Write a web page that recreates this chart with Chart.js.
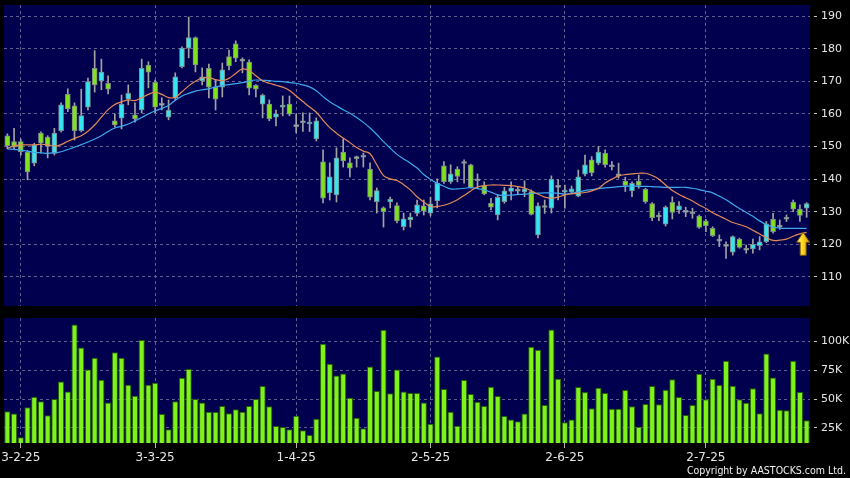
<!DOCTYPE html>
<html>
<head>
<meta charset="utf-8">
<script src="https://cdn.jsdelivr.net/npm/chart.js@4"></script>
<style>
  html, body { margin: 0; padding: 0; background: #000; }
  #wrap { position: relative; width: 850px; height: 478px; background: #000; overflow: hidden; }
  #priceCanvas { position: absolute; left: 0; top: 0; }
  #volCanvas { position: absolute; left: 0; top: 310px; }
  #copy { position: absolute; right: 4px; top: 464px; color: #f0f0f0; line-height: 1;
          font: 10.5px "DejaVu Sans Condensed", "DejaVu Sans", sans-serif; }
</style>
</head>
<body>
<div id="wrap">
  <canvas id="priceCanvas" width="850" height="310"></canvas>
  <canvas id="volCanvas" width="850" height="168"></canvas>
  <div id="copy">Copyright by AASTOCKS.com Ltd.</div>
</div>
<script>
// daily candles
const open = [153.3,151.5,151.5,148.3,144.9,154.1,152.9,147.9,154.9,166.0,
  162.5,154.9,162.1,174.0,170.1,169.4,157.9,158.7,164.5,159.7,
  161.2,175.0,169.7,162.6,159.0,164.8,174.5,180.2,183.4,170.1,
  174.0,168.2,168.2,177.6,181.5,176.2,175.9,168.8,163.0,163.0,
  159.0,162.1,163.0,156.1,157.3,156.9,152.3,145.3,135.8,135.2,
  148.3,145.0,146.3,146.7,143.1,133.1,131.2,133.0,131.9,125.4,
  127.5,129.5,131.8,129.6,133.3,144.1,139.2,143.1,144.8,144.4,
  139.5,138.0,132.6,129.0,133.1,136.2,136.3,136.1,136.2,122.9,
  131.3,131.1,137.5,136.0,136.1,134.8,141.5,145.9,144.9,147.9,
  143.8,141.0,139.4,136.4,139.4,136.9,132.5,128.4,126.2,132.9,
  130.6,129.8,129.4,128.7,127.2,124.9,121.0,119.4,117.6,121.6,
  118.2,118.6,119.6,120.8,127.7,125.3,127.7,133.0,130.8,131.1];
const high = [153.9,155.6,152.3,148.7,151.0,154.5,153.3,155.6,163.4,167.7,
  163.4,167.6,171.0,179.4,176.8,171.7,160.0,165.8,168.9,163.4,
  176.8,176.0,170.4,164.9,164.3,172.6,180.6,189.7,183.6,174.1,
  175.3,170.4,175.6,179.6,182.4,177.2,176.6,169.0,166.1,164.3,
  161.2,165.5,165.5,160.0,160.3,160.3,158.8,149.0,145.0,149.6,
  152.3,146.5,147.1,148.0,145.0,137.3,131.5,134.5,132.7,129.6,
  129.6,133.6,133.6,134.5,140.1,145.4,144.4,143.8,145.9,144.6,
  141.6,139.2,134.1,135.2,137.5,139.2,137.7,139.5,136.7,132.7,
  133.6,141.0,139.8,138.2,137.9,142.8,147.4,146.9,150.0,149.0,
  145.4,144.9,140.6,139.2,141.3,137.2,132.8,129.7,131.8,134.6,
  133.1,131.4,131.1,129.0,127.7,125.4,122.9,120.8,122.6,121.9,
  119.8,121.6,122.4,127.0,129.5,127.5,129.0,133.6,132.1,132.8];
const low = [149.3,149.3,147.4,139.8,144.1,148.0,146.5,147.4,154.5,160.7,
  152.0,154.5,161.2,166.7,167.4,166.1,156.0,155.4,162.8,157.5,
  160.3,168.0,160.4,161.2,158.2,164.3,174.1,177.2,172.9,168.9,
  164.9,161.2,165.2,173.5,176.0,172.6,165.8,165.2,158.8,157.9,
  156.3,159.4,159.4,154.2,154.6,154.6,151.7,132.7,133.6,133.0,
  143.7,140.7,143.7,143.7,133.6,129.6,125.3,131.2,126.6,124.4,
  125.3,128.7,129.0,128.7,131.2,138.7,138.7,139.2,138.8,137.3,
  137.2,135.2,130.6,127.5,132.6,133.6,135.2,134.6,129.0,122.0,
  129.5,129.6,133.6,131.1,135.5,134.6,141.0,141.0,144.4,143.7,
  142.8,140.3,136.2,134.6,137.2,132.6,127.3,127.3,125.6,127.8,
  129.5,128.5,128.0,124.9,123.9,122.4,119.3,115.7,116.7,118.8,
  117.3,117.3,118.3,120.5,123.4,124.6,127.0,130.0,127.0,128.3];
const close = [150.2,149.8,148.4,142.2,150.5,151.0,150.0,154.1,162.8,161.5,
  154.9,159.5,169.9,168.9,172.8,167.6,156.6,163.0,166.3,158.5,
  174.0,172.8,162.1,162.6,161.2,171.4,180.2,183.4,175.0,171.4,
  168.2,164.5,173.5,174.7,177.1,176.2,167.9,167.6,165.8,158.5,
  160.0,162.7,159.9,156.1,157.3,157.5,157.9,134.2,140.7,146.5,
  145.6,143.4,146.3,146.7,134.5,136.5,130.0,133.9,127.2,127.8,
  128.4,132.1,130.2,132.4,138.8,139.2,141.6,140.8,144.8,137.5,
  139.5,135.5,131.4,134.4,136.4,137.3,136.3,137.0,129.2,131.8,
  131.3,140.0,137.5,136.5,137.0,140.7,144.4,142.0,148.3,144.4,
  143.8,141.0,138.1,138.7,138.1,133.1,128.2,128.4,131.4,129.8,
  131.8,129.8,129.4,125.2,125.7,122.7,121.0,119.4,122.4,119.1,
  118.2,120.0,120.8,126.3,123.9,125.3,127.7,130.8,128.9,132.5];

// moving averages as drawn
const ma10 = [149.4,150.2,150.5,150.5,150.5,150.7,150.5,150.1,150.6,151.6,
  152.5,153.3,154.7,156.6,159.0,161.3,162.9,163.7,164.3,164.1,
  165.0,166.0,166.7,166.0,165.0,165.1,166.8,168.6,170.0,171.0,
  171.2,170.5,170.2,170.9,172.4,173.8,173.3,171.7,170.2,169.4,
  168.8,168.2,167.2,165.5,163.8,162.1,160.5,158.1,155.8,154.1,
  152.6,151.2,149.7,148.6,147.8,144.4,141.1,140.1,139.6,138.3,
  136.7,134.6,133.0,131.6,131.6,132.0,132.7,133.7,135.0,136.4,
  137.6,138.0,138.2,138.2,138.1,138.0,137.7,137.3,136.4,135.4,
  134.5,134.2,134.5,135.2,135.5,135.7,135.9,136.4,137.2,138.8,
  140.0,141.0,141.4,141.6,141.8,141.8,141.1,140.0,138.2,136.5,
  135.3,134.3,133.3,132.1,131.0,129.7,128.7,127.7,126.7,126.1,
  125.4,124.3,123.2,122.1,121.2,121.3,121.6,122.5,123.2,123.7];
const ma20 = [149.3,149.1,148.9,148.6,148.2,148.1,147.9,148.1,148.4,149.1,
  149.8,150.6,151.4,152.3,153.3,154.6,155.7,156.2,156.9,157.9,
  158.9,160.0,160.9,161.7,162.6,164.2,165.5,166.3,167.0,167.4,
  167.7,168.3,168.7,169.0,169.3,169.6,170.1,170.4,170.3,170.2,
  170.0,169.9,169.6,169.4,168.9,168.3,167.1,165.3,163.7,162.5,
  161.3,160.2,158.9,157.4,155.7,153.7,151.5,149.5,147.6,146.2,
  144.9,143.4,141.4,139.9,138.7,137.8,137.0,137.0,137.2,137.4,
  137.1,136.7,136.0,135.2,135.0,135.1,135.3,135.4,135.6,135.7,
  135.8,135.8,135.7,135.4,135.7,136.0,136.5,136.8,137.1,137.3,
  137.5,137.7,137.8,137.9,137.8,137.8,137.7,137.6,137.5,137.5,
  137.5,137.5,137.2,136.8,136.3,135.8,134.8,133.7,132.3,131.0,
  129.8,128.6,127.2,126.1,125.3,125.0,124.9,124.9,124.9,124.9];

// volume in thousands
const volume = [39.4,37.4,17,42.8,52,48,35.9,50,65.2,56.6,
  114.4,94.5,75.6,85.6,66.7,47.1,90.5,85.6,62.4,52.9,
  100.9,62.4,64.1,37.1,23.9,48,68.4,75.9,50,47.1,
  39.1,38.8,44,37.6,41.1,39.1,44,50,61.2,43.7,
  26.7,25.9,23.9,35.6,23,19,33,97.7,80.5,70.4,
  72.1,51.1,33.9,24.7,78.2,56.9,109.8,54.9,75.6,56.6,
  55.2,55.2,47.1,28.7,86.8,58.6,39.1,27,66.4,54.3,
  47.7,44,60.6,52.6,35.3,32.2,30.7,37.4,95.1,92.5,
  44.8,110.1,67.5,29.9,32.2,60.3,56,42,59.8,55.2,
  41.7,41.7,57.8,43.7,26.1,45.7,61.2,45.4,58,67,
  51.7,36.2,44.8,71.8,49.7,67.5,62.1,83.1,61.5,49.7,
  46.8,59.2,37.6,89.4,68.7,40.8,40.2,83.1,56,31.6];

const tickIdx = [2, 22, 43, 63, 83, 104];
const tickText = ['3-2-25', '3-3-25', '1-4-25', '2-5-25', '2-6-25', '2-7-25'];
const priceTicks = [110, 120, 130, 140, 150, 160, 170, 180, 190];
const volTicks = [25, 50, 75, 100];

const cats = open.map((_, i) => i);

const NAVY = '#00004e';
const GRID = '#5f5f92';
const UP = '#35e6f2', DOWN = '#7fe21c', FLAT = '#a9b6c6';
const LABEL = '#e6e6e6';
const FONT = '"DejaVu Sans", sans-serif';

const navyBg = {
  id: 'navyBg',
  beforeDraw(chart) {
    const { ctx, chartArea: a } = chart;
    ctx.save();
    ctx.fillStyle = NAVY;
    ctx.fillRect(a.left, a.top, a.right - a.left, a.bottom - a.top);
    ctx.restore();
  }
};

// yellow arrow under the last point of the short average
const arrow = {
  id: 'arrow',
  afterDatasetsDraw(chart) {
    const { ctx, scales } = chart;
    const last = cats.length - 1;
    const x = scales.x.getPixelForValue(last) - 3.5;
    const top = scales.y.getPixelForValue(ma10[last]);
    ctx.save();
    const g = ctx.createLinearGradient(x - 6, 0, x + 6, 0);
    g.addColorStop(0, '#fff07a');
    g.addColorStop(0.5, '#ffd21e');
    g.addColorStop(1, '#d99a00');
    ctx.fillStyle = g;
    ctx.strokeStyle = '#7a5a00';
    ctx.lineWidth = 1;
    ctx.beginPath();
    ctx.moveTo(x, top);
    ctx.lineTo(x + 6.5, top + 10);
    ctx.lineTo(x + 3, top + 10);
    ctx.lineTo(x + 3, top + 23);
    ctx.lineTo(x - 3, top + 23);
    ctx.lineTo(x - 3, top + 10);
    ctx.lineTo(x - 6.5, top + 10);
    ctx.closePath();
    ctx.fill();
    ctx.stroke();
    ctx.restore();
  }
};

const setTicks = list => axis => { axis.ticks = list.map(v => ({ value: v })); };
// fixed width for the right axis, and no extra room for the end labels
const fitRight = s => { s.width = 40; s.paddingTop = 0; s.paddingBottom = 0; };

const bodyColor = open.map((o, i) => close[i] > o ? UP : close[i] < o ? DOWN : FLAT);

new Chart(document.getElementById('priceCanvas').getContext('2d'), {
  type: 'bar',
  data: {
    labels: cats,
    datasets: [
      { type: 'line', data: ma10, borderColor: '#e58a57', borderWidth: 1.2,
        pointRadius: 0, tension: 0.35, order: 1 },
      { type: 'line', data: ma20, borderColor: '#3fa9ee', borderWidth: 1.2,
        pointRadius: 0, tension: 0.35, order: 2 },
      { data: open.map((o, i) => [Math.min(o, close[i]), Math.max(o, close[i])]),
        backgroundColor: bodyColor, borderColor: '#7d8a8a', borderWidth: 1,
        borderSkipped: false, barThickness: 5, minBarLength: 2, grouped: false, order: 3 },
      { data: low.map((l, i) => [l, high[i]]), backgroundColor: '#a3a3a3',
        borderWidth: 0, barThickness: 1, grouped: false, order: 4 }
    ]
  },
  options: {
    responsive: false,
    animation: false,
    layout: { padding: { left: 4, top: 5, bottom: 4, right: 0 } },
    plugins: { legend: { display: false }, tooltip: { enabled: false } },
    scales: {
      x: {
        offset: true,
        afterBuildTicks: setTicks(tickIdx),
        afterFit: s => { s.height = 0; s.paddingLeft = 0; s.paddingRight = 0; },
        ticks: { display: false },
        grid: { color: GRID, offset: false, drawTicks: false },
        border: { display: false, dash: [3, 3] }
      },
      y: {
        position: 'right',
        min: 101.1, max: 193.4,
        afterBuildTicks: setTicks(priceTicks),
        afterFit: fitRight,
        ticks: { color: LABEL, font: { family: FONT, size: 11 }, padding: 3 },
        grid: { color: GRID, tickLength: 8, tickColor: '#c8c8c8', tickBorderDash: [0, 4, 3, 40] },
        border: { display: false, dash: [3, 3] }
      }
    }
  },
  plugins: [navyBg, arrow]
});

new Chart(document.getElementById('volCanvas').getContext('2d'), {
  type: 'bar',
  data: {
    labels: cats,
    datasets: [{
      data: volume, backgroundColor: '#7ff21a', borderColor: '#215f00', borderWidth: 1,
      borderSkipped: false, barPercentage: 0.92, categoryPercentage: 1.0
    }]
  },
  options: {
    responsive: false,
    animation: false,
    layout: { padding: { left: 4, top: 8, bottom: 0, right: 0 } },
    plugins: { legend: { display: false }, tooltip: { enabled: false } },
    scales: {
      x: {
        offset: true,
        afterBuildTicks: setTicks(tickIdx),
        afterFit: s => { s.height = 35; s.paddingLeft = 0; s.paddingRight = 0; },
        ticks: { color: LABEL, font: { family: FONT, size: 12 }, padding: 3,
                 maxRotation: 0, autoSkip: false, callback: (v, i) => tickText[i] },
        grid: { color: GRID, offset: false, tickLength: 5, tickColor: '#b0b0b0', tickBorderDash: [] },
        border: { display: false, dash: [3, 3] }
      },
      y: {
        position: 'right',
        min: 12, max: 120,
        afterBuildTicks: setTicks(volTicks),
        afterFit: fitRight,
        ticks: { color: LABEL, font: { family: FONT, size: 11 }, padding: 3, callback: v => v + 'K' },
        grid: { color: GRID, tickLength: 8, tickColor: '#c8c8c8', tickBorderDash: [0, 4, 3, 40] },
        border: { display: false, dash: [3, 3] }
      }
    }
  },
  plugins: [navyBg]
});
</script>
</body>
</html>
